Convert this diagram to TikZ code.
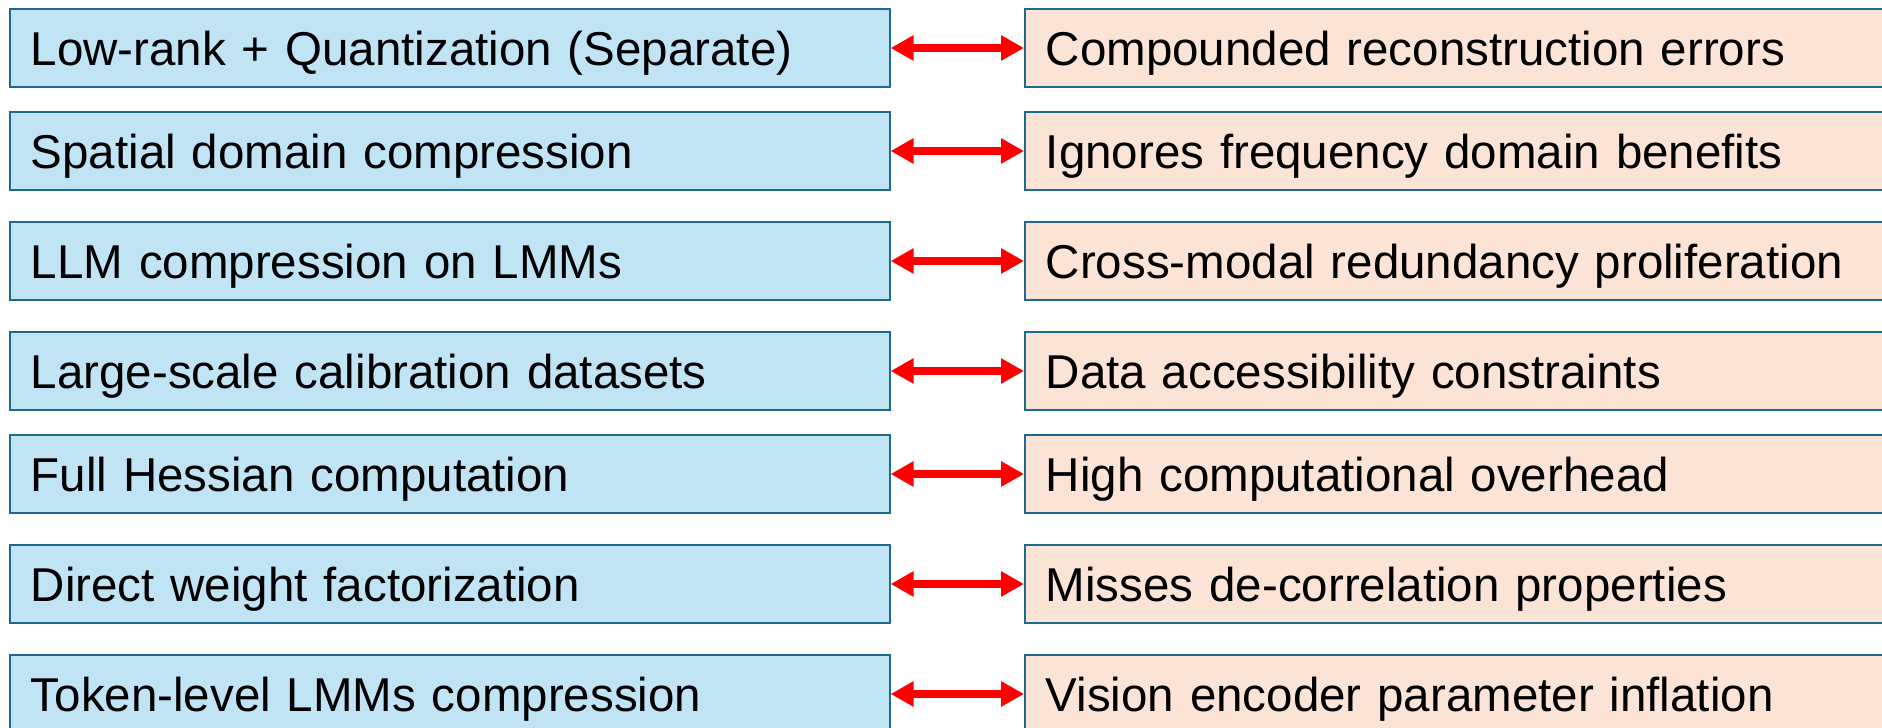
\documentclass[tikz,border=0pt]{standalone}
\usepackage{fontspec}
\setmainfont{Liberation Sans}
\usetikzlibrary{arrows.meta}
\definecolor{boxedge}{HTML}{1D6A8F}
\definecolor{methodfill}{HTML}{C1E4F5}
\definecolor{issuefill}{HTML}{FBE3D6}
\tikzset{
        method/.style={draw=boxedge, line width=1.6pt, fill=methodfill, anchor=west,
          minimum height=78pt, text width=838pt, inner xsep=21pt, inner ysep=0pt,
          align=left, text height=34pt, text depth=0pt, font=\fontsize{47.5}{56}\selectfont},
        issue/.style={method, fill=issuefill, text width=900pt},
        link/.style={draw=red, line width=8pt, >={Triangle[length=23pt,width=24pt]}, <->}
          }
\begin{document}
\begin{tikzpicture}[x=1pt, y=-1pt]
        \clip (0,0) rectangle (1882,728);
        % methods on the left, their drawbacks on the right
        \node[method] (m1) at (9,48) {Low-rank + Quantization (Separate)};
        \node[method] (m2) at (9,151) {Spatial domain compression};
        \node[method] (m3) at (9,261) {LLM compression on LMMs};
        \node[method] (m4) at (9,371) {Large-scale calibration datasets};
        \node[method] (m5) at (9,474) {Full Hessian computation};
        \node[method] (m6) at (9,584) {Direct weight factorization};
        \node[method] (m7) at (9,694) {Token-level LMMs compression};
        \node[issue] (i1) at (1024,48) {Compounded reconstruction errors};
        \node[issue] (i2) at (1024,151) {Ignores frequency domain benefits};
        \node[issue] (i3) at (1024,261) {Cross-modal redundancy proliferation};
        \node[issue] (i4) at (1024,371) {Data accessibility constraints};
        \node[issue] (i5) at (1024,474) {High computational overhead};
        \node[issue] (i6) at (1024,584) {Misses de-correlation properties};
        \node[issue] (i7) at (1024,694) {Vision encoder parameter inflation};
        \draw[link] (m1) -- (i1);
        \draw[link] (m2) -- (i2);
        \draw[link] (m3) -- (i3);
        \draw[link] (m4) -- (i4);
        \draw[link] (m5) -- (i5);
        \draw[link] (m6) -- (i6);
        \draw[link] (m7) -- (i7);
      \end{tikzpicture}
\end{document}
